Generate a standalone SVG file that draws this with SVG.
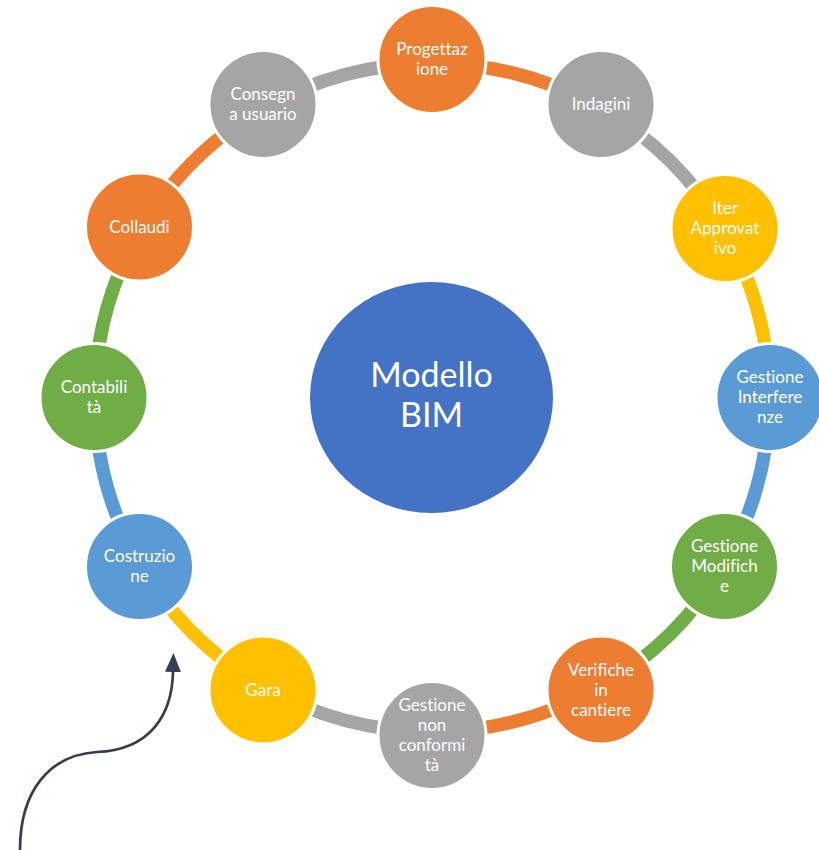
<svg xmlns="http://www.w3.org/2000/svg" width="819" height="850" viewBox="0 0 819 850">
<defs>
<style>
.arc{fill:none;stroke-width:13.5;stroke-linecap:butt}
.node{stroke:#FFFFFF;stroke-width:3}
.lbl{font-family:Lato,"Open Sans","Liberation Sans",sans-serif;font-size:17px;fill:#FFFFFF;text-anchor:middle;font-variant-ligatures:none}
.big{font-family:Lato,"Open Sans","Liberation Sans",sans-serif;font-size:34px;fill:#FFFFFF;text-anchor:middle}
.or{fill:#ED7D31}.gr{fill:#A5A5A5}.ye{fill:#FFC000}.bl{fill:#5B9BD5}.gn{fill:#70AD47}
</style>
<marker id="ah" markerUnits="userSpaceOnUse" markerWidth="19" markerHeight="17" refX="0" refY="8" orient="auto" viewBox="0 0 19 16">
<path d="M0 0 L19 8 L0 16 Z" fill="#333F50"/>
</marker>
</defs>
<rect width="819" height="850" fill="#FFFFFF"/>
<g id="connectors">
<path class="arc" stroke="#ED7D31" d="M432 63.5 A337 334 0 0 1 600.5 108.25"/>
<path class="arc" stroke="#A5A5A5" d="M600.5 108.25 A337 334 0 0 1 723.85 230.5"/>
<path class="arc" stroke="#FFC000" d="M723.85 230.5 A337 334 0 0 1 769 397.5"/>
<path class="arc" stroke="#5B9BD5" d="M769 397.5 A337 334 0 0 1 723.85 564.5"/>
<path class="arc" stroke="#70AD47" d="M723.85 564.5 A337 334 0 0 1 600.5 686.75"/>
<path class="arc" stroke="#ED7D31" d="M600.5 686.75 A337 334 0 0 1 432 731.5"/>
<path class="arc" stroke="#A5A5A5" d="M432 731.5 A337 334 0 0 1 263.5 686.75"/>
<path class="arc" stroke="#FFC000" d="M263.5 686.75 A337 334 0 0 1 140.15 564.5"/>
<path class="arc" stroke="#5B9BD5" d="M140.15 564.5 A337 334 0 0 1 95 397.5"/>
<path class="arc" stroke="#70AD47" d="M95 397.5 A337 334 0 0 1 140.15 230.5"/>
<path class="arc" stroke="#ED7D31" d="M140.15 230.5 A337 334 0 0 1 263.5 108.25"/>
<path class="arc" stroke="#A5A5A5" d="M263.5 108.25 A337 334 0 0 1 432 63.5"/>
<path d="M20 850 C20 790 50 755 97 752 C150 750 172 715 173 672" fill="none" stroke="#333F50" stroke-width="2.7" marker-end="url(#ah)"/>
</g>
<g id="center">
<ellipse cx="431.5" cy="397.5" rx="121.5" ry="115.5" fill="#4472C4"/>
<text class="big" x="431.5" y="387">Modello</text>
<text class="big" x="431.5" y="427">BIM</text>
</g>
<g id="n-progettazione">
<circle class="node or" cx="432" cy="59.5" r="54"/>
<text class="lbl" x="432" y="55">Progettaz</text>
<text class="lbl" x="432" y="75">ione</text>
</g>
<g id="n-indagini">
<circle class="node gr" cx="601" cy="104.5" r="54"/>
<text class="lbl" x="601" y="110">Indagini</text>
</g>
<g id="n-iter">
<circle class="node ye" cx="725" cy="228.5" r="54"/>
<text class="lbl" x="725" y="214">Iter</text>
<text class="lbl" x="725" y="234">Approvat</text>
<text class="lbl" x="725" y="254">ivo</text>
</g>
<g id="n-interferenze">
<circle class="node bl" cx="770" cy="397.5" r="54"/>
<text class="lbl" x="770" y="383">Gestione</text>
<text class="lbl" x="770" y="403">Interfere</text>
<text class="lbl" x="770" y="423">nze</text>
</g>
<g id="n-modifiche">
<circle class="node gn" cx="724.5" cy="566.5" r="54"/>
<text class="lbl" x="724.5" y="552">Gestione</text>
<text class="lbl" x="724.5" y="572">Modifich</text>
<text class="lbl" x="724.5" y="592">e</text>
</g>
<g id="n-verifiche">
<circle class="node or" cx="601" cy="690" r="54"/>
<text class="lbl" x="601" y="675.5">Verifiche</text>
<text class="lbl" x="601" y="695.5">in</text>
<text class="lbl" x="601" y="715.5">cantiere</text>
</g>
<g id="n-nonconformita">
<circle class="node gr" cx="432" cy="735.5" r="54"/>
<text class="lbl" x="432" y="711">Gestione</text>
<text class="lbl" x="432" y="731">non</text>
<text class="lbl" x="432" y="751">conformi</text>
<text class="lbl" x="432" y="771">tà</text>
</g>
<g id="n-gara">
<circle class="node ye" cx="263" cy="690" r="54"/>
<text class="lbl" x="263" y="695.5">Gara</text>
</g>
<g id="n-costruzione">
<circle class="node bl" cx="139.5" cy="566.5" r="54"/>
<text class="lbl" x="139.5" y="562">Costruzio</text>
<text class="lbl" x="139.5" y="582">ne</text>
</g>
<g id="n-contabilita">
<circle class="node gn" cx="94" cy="397.5" r="54"/>
<text class="lbl" x="94" y="393">Contabili</text>
<text class="lbl" x="94" y="413">tà</text>
</g>
<g id="n-collaudi">
<circle class="node or" cx="139.5" cy="227" r="54"/>
<text class="lbl" x="139.5" y="232.5">Collaudi</text>
</g>
<g id="n-consegna">
<circle class="node gr" cx="263" cy="104.5" r="54"/>
<text class="lbl" x="263" y="100">Consegn</text>
<text class="lbl" x="263" y="120">a usuario</text>
</g>
</svg>
